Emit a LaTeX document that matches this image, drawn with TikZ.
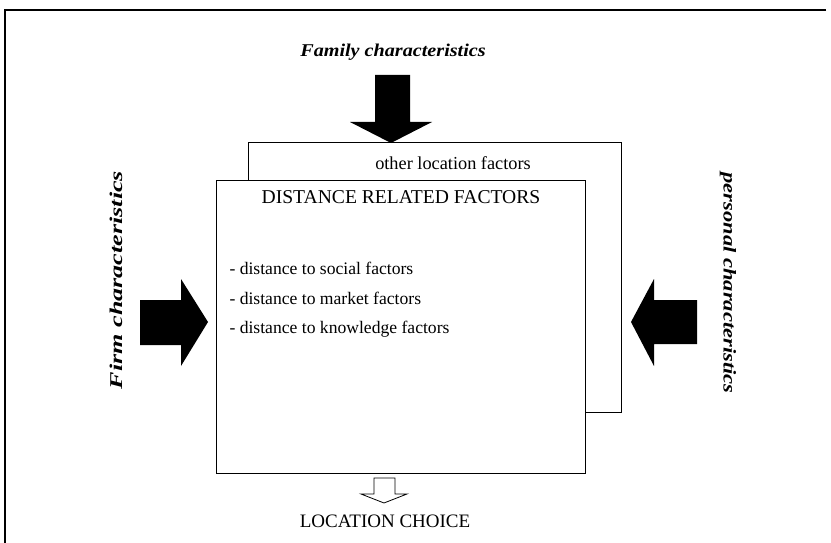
\documentclass[tikz,border=0pt]{standalone}
\usepackage{fontspec}
\setmainfont{Liberation Serif}
\begin{document}
\begin{tikzpicture}[x=1pt,y=-1pt,
  frame/.style={line width=1.8pt},
  box/.style={draw, line width=0.9pt, fill=white},
  blockarrow/.style={fill=black},
  hollowarrow/.style={draw, line width=0.8pt, fill=white},
  sidelabel/.style={font=\bfseries\itshape\fontsize{18}{20}\selectfont},
  itemtext/.style={font=\fontsize{17.6}{19}\selectfont, anchor=west},
  captext/.style={font=\fontsize{19}{21}\selectfont}]
\useasboundingbox (0,0) rectangle (831,543);
% outer frame (top and left only)
\coordinate (ftl) at (5,10);
\coordinate (ftr) at (826,10);
\coordinate (fbl) at (5,543);
\draw[frame] (ftr) -- (ftl) -- (fbl);
% back box
\node[box, minimum width=373pt, minimum height=270pt, anchor=north west] (back) at (248,142) {};
\node[captext, font=\fontsize{18.3}{20}\selectfont] (other) at (453,163) {other location factors};
% front box
\node[box, minimum width=369pt, minimum height=293pt, anchor=north west] (front) at (216,180) {};
\node[captext, font=\fontsize{19.6}{21}\selectfont] (drf) at (401,197) {DISTANCE RELATED FACTORS};
\node[itemtext] (i1) at (226,268) {- distance to social factors};
\node[itemtext] (i2) at (226,298) {- distance to market factors};
\node[itemtext] (i3) at (226,329) {- distance to knowledge factors};
% family
\node[sidelabel] (fam) at (393,52) {\scalebox{1.12}[1]{Family characteristics}};
\fill[blockarrow] (375,75) -- (410,75) -- (410,122) -- (432,122) -- (391,143) -- (350,122) -- (375,122) -- cycle;
% firm
\node[sidelabel, rotate=90] (firm) at (116,280) {\scalebox{1.45}[1]{Firm characteristics}};
\fill[blockarrow] (140,300) -- (181,300) -- (181,279) -- (208,322) -- (181,366) -- (181,345) -- (140,345) -- cycle;
% personal
\node[sidelabel, rotate=-90] (pers) at (728,283) {\scalebox{1.25}[1]{personal characteristics}};
\fill[blockarrow] (697,300) -- (654,300) -- (654,279) -- (631,322) -- (654,366) -- (654,344) -- (697,344) -- cycle;
% location choice
\draw[hollowarrow] (374,478) -- (395,478) -- (395,494) -- (407,494) -- (384,503) -- (361,494) -- (374,494) -- cycle;
\node[captext] (loc) at (385,521) {LOCATION CHOICE};
\end{tikzpicture}
\end{document}
